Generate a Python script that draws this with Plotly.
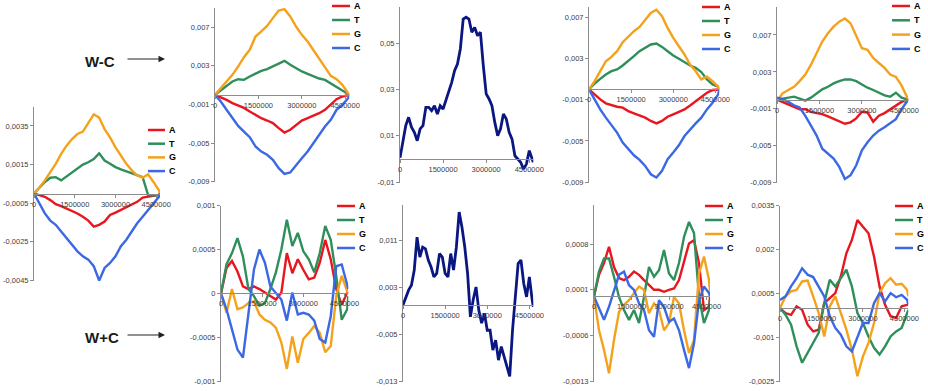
import plotly.graph_objects as go

W, H = 928, 391

# ---------------- data ----------------
X_COARSE = [0, 200000, 400000, 600000, 800000, 1000000, 1200000, 1400000, 1600000,
            1800000, 2000000, 2200000, 2400000, 2600000, 2800000, 3000000, 3200000,
            3400000, 3600000, 3800000, 4000000, 4200000, 4400000, 4600000, 4640000]
X_FINE = [0, 100000, 200000, 300000, 400000, 500000, 600000, 700000, 800000, 900000,
          1000000, 1100000, 1200000, 1300000, 1400000, 1500000, 1600000, 1700000,
          1800000, 1900000, 2000000, 2100000, 2200000, 2300000, 2400000, 2500000,
          2600000, 2700000, 2800000, 2900000, 3000000, 3100000, 3200000, 3300000,
          3400000, 3500000, 3600000, 3700000, 3800000, 3900000, 4000000, 4100000,
          4200000, 4300000, 4400000, 4500000, 4600000, 4640000]

BASES = ["A", "T", "G", "C"]
X_TICKVALS = [0, 1500000, 3000000, 4500000]
X_TICKTEXT = ["0", "1500000", "3000000", "4500000"]

# left panel (W-C, whole genome)
P1_A = [0, -0.00009, -0.00017, -0.00034, -0.00055, -0.00065, -0.00077, -0.00089, -0.00103, -0.0012, -0.0014, -0.00171, -0.00162, -0.00145, -0.00111, -0.00099, -0.00085, -0.00068, -0.00055, -0.00043, -0.00021, -0.00017, -0.00014, -0.00007, 0]
P1_T = [0, 0.00031, 0.0006, 0.00082, 0.00085, 0.00068, 0.00089, 0.00111, 0.00128, 0.0015, 0.00162, 0.00179, 0.00208, 0.00171, 0.00154, 0.00137, 0.00125, 0.00115, 0.00106, 0.00096, 0.00085, -0.00007, -0.0001, -0.00007, 0]
P1_G = [0, 0.00031, 0.00068, 0.00111, 0.00154, 0.00205, 0.00248, 0.00282, 0.00308, 0.00321, 0.00367, 0.0041, 0.00393, 0.00333, 0.00291, 0.00239, 0.00197, 0.00154, 0.0012, 0.00094, 0.00082, 0.00099, 0.0006, 0.00017, 0]
P1_C = [0, -0.00051, -0.00103, -0.0014, -0.00162, -0.00197, -0.00231, -0.00265, -0.00299, -0.00325, -0.00342, -0.00376, -0.0045, -0.00385, -0.00359, -0.00325, -0.00273, -0.00239, -0.00197, -0.00154, -0.0012, -0.00085, -0.00051, -0.00017, 0]
P1_YTICKS = [-0.0045, -0.0025, -0.0005, 0.0015, 0.0035]
P1_YTEXT = ["-0,0045", "-0,0025", "-0,0005", "0,0015", "0,0035"]

# top row, W-C
P2_A = [0, -0.00024, -0.00052, -0.00086, -0.00114, -0.00135, -0.00173, -0.00207, -0.00242, -0.00266, -0.00293, -0.00345, -0.0039, -0.00362, -0.00311, -0.00266, -0.00242, -0.00217, -0.0019, -0.00155, -0.00104, -0.00045, -0.00017, -0.00003, 0]
P2_T = [0, 0.00045, 0.00093, 0.00138, 0.00162, 0.00155, 0.0019, 0.00217, 0.00248, 0.00266, 0.00293, 0.00328, 0.00352, 0.00311, 0.00276, 0.00242, 0.00217, 0.0019, 0.00169, 0.00155, 0.00121, 0.00079, 0.00045, 0.0001, 0]
P2_G = [0, 0.00069, 0.00128, 0.00207, 0.00293, 0.0039, 0.00466, 0.00604, 0.00656, 0.00714, 0.00794, 0.00873, 0.00887, 0.00811, 0.00707, 0.00621, 0.00552, 0.00466, 0.0038, 0.00293, 0.00197, 0.00162, 0.00104, 0.00017, 0]
P2_C = [0, -0.00069, -0.00155, -0.00242, -0.00321, -0.0038, -0.00438, -0.00535, -0.00587, -0.00621, -0.00673, -0.00759, -0.00818, -0.00804, -0.00725, -0.00656, -0.00587, -0.005, -0.00414, -0.00328, -0.00259, -0.00155, -0.00104, -0.00035, 0]
P2_YTICKS = [-0.009, -0.005, -0.001, 0.003, 0.007]
P2_YTEXT = ["-0,009", "-0,005", "-0,001", "0,003", "0,007"]

P3_N = [0.0005, 0.0072, 0.0144, 0.018, 0.0137, 0.0115, 0.0079, 0.013, 0.0144, 0.0223, 0.0223, 0.0209, 0.023, 0.0194, 0.023, 0.0216, 0.0252, 0.0288, 0.0331, 0.0381, 0.041, 0.0475, 0.0604, 0.0612, 0.0604, 0.0547, 0.0568, 0.0532, 0.0547, 0.0403, 0.0281, 0.0259, 0.023, 0.0158, 0.0101, 0.013, 0.0194, 0.0173, 0.0115, 0.0086, 0.0014, 0, -0.0014, -0.0043, -0.0022, 0.0036, 0, -0.0014]
P3_YTICKS = [-0.01, 0.01, 0.03, 0.05]
P3_YTEXT = ["-0,01", "0,01", "0,03", "0,05"]

P4_A = [0, -0.00048, -0.00097, -0.00135, -0.00155, -0.00168, -0.00177, -0.0021, -0.00232, -0.00252, -0.00274, -0.00306, -0.00329, -0.00306, -0.00265, -0.00242, -0.00219, -0.00194, -0.00155, -0.00113, -0.00071, -0.00032, -0.00006, 0, 0]
P4_T = [0, 0.00058, 0.00103, 0.00145, 0.00177, 0.00194, 0.00232, 0.00274, 0.00323, 0.00371, 0.00403, 0.00436, 0.00445, 0.00413, 0.00371, 0.00329, 0.00297, 0.00265, 0.00232, 0.0021, 0.00168, 0.00097, 0.00048, 0.00026, 0]
P4_G = [0, 0.00081, 0.00177, 0.00274, 0.00316, 0.00371, 0.00458, 0.00516, 0.00565, 0.00606, 0.00671, 0.00742, 0.00774, 0.0071, 0.00597, 0.005, 0.00419, 0.00339, 0.00242, 0.00177, 0.00097, 0.00123, 0.00081, 0.00026, 0]
P4_C = [0, -0.00097, -0.00194, -0.00274, -0.00348, -0.00419, -0.00516, -0.00581, -0.00639, -0.00684, -0.00742, -0.00823, -0.00855, -0.0079, -0.00677, -0.00613, -0.00542, -0.00452, -0.00387, -0.00329, -0.00274, -0.00194, -0.00129, -0.00048, 0]

P5_A = [0, -0.00025, -0.0005, -0.00075, -0.00104, -0.00104, -0.00132, -0.00146, -0.00157, -0.00182, -0.00211, -0.00239, -0.00261, -0.00246, -0.00203, -0.00132, -0.00139, -0.00239, -0.00175, -0.00146, -0.00104, -0.00061, -0.00025, -0.00004, 0]
P5_T = [0, 0.00011, 0.00018, 0.00032, 0.00011, -0.00011, 0.00021, 0.00068, 0.00111, 0.00139, 0.00175, 0.002, 0.00218, 0.00218, 0.002, 0.00164, 0.00129, 0.00104, 0.00075, 0.00046, 0.00032, 0.00075, 0.00021, 0.00004, 0]
P5_G = [-0.00014, 0.00068, 0.00104, 0.00139, 0.002, 0.00271, 0.00378, 0.00503, 0.00628, 0.00718, 0.00789, 0.00843, 0.00878, 0.00825, 0.00682, 0.00557, 0.00539, 0.0045, 0.00396, 0.00343, 0.00271, 0.00246, 0.00154, 0.00021, 0]
P5_C = [0.00021, 0.00004, -0.00025, -0.00061, -0.00086, -0.00175, -0.00282, -0.00389, -0.00532, -0.00585, -0.00639, -0.00728, -0.0086, -0.00818, -0.0071, -0.0055, -0.00461, -0.00389, -0.00336, -0.003, -0.00253, -0.00211, -0.00104, -0.00014, 0]

# bottom row, W+C
P6_A = [0, 0.00029, 0.00037, 0.00025, 0.00008, 0.00005, 0.00008, 0.00005, 0.00001, -0.00003, -0.00007, 0.00001, 0.00046, 0.00023, 0.00039, 0.00027, 0.00016, 0.00018, 0.00035, 0.00061, 0.00039, 0.00005, -0.00013, 0.00001, 0]
P6_T = [0, 0.00033, 0.00046, 0.00063, 0.00042, 0.00005, -0.00003, -0.00014, -0.00011, 0.00005, 0.00024, 0.0005, 0.00084, 0.00054, 0.00069, 0.00048, 0.00039, 0.00024, 0.00046, 0.00077, 0.00061, 0.0002, -0.0003, -0.00018, -0.00003]
P6_G = [0, -0.00022, 0.00005, -0.00018, -0.00016, -0.00011, -0.00009, -0.00024, -0.0003, -0.00033, -0.00039, -0.00056, -0.00086, -0.00049, -0.00079, -0.00052, -0.00045, -0.00037, -0.00045, -0.00067, -0.0006, -0.00003, 0.0002, 0.00001, -0.00001]
P6_C = [0, -0.00018, -0.00041, -0.00064, -0.00073, -0.00026, 0.00027, 0.0005, 0.00035, 0.00008, 0.00001, -0.00007, -0.00031, 0.00001, -0.00024, -0.00022, -0.00024, -0.00031, -0.00052, -0.00056, -0.00026, 0.00031, 0.00033, 0.00012, 0.00005]
P6_YTICKS = [-0.001, -0.0005, 0, 0.0005, 0.001]
P6_YTEXT = ["-0,001", "-0,0005", "0", "0,0005", "0,001"]

P7_N = [0, 0.00142, 0.00255, 0.0034, 0.00595, 0.0116, 0.0082, 0.0099, 0.0096, 0.0077, 0.0065, 0.0048, 0.0054, 0.0088, 0.0082, 0.0054, 0.0048, 0.0088, 0.006, 0.0099, 0.0159, 0.0133, 0.0099, 0.0054, -0.002, 0.0009, 0.0031, -0.0009, -0.0031, -0.0014, -0.0043, -0.0043, -0.0077, -0.006, -0.0094, -0.0071, -0.0088, -0.0105, -0.0122, -0.0043, 0.0014, 0.0071, 0.0077, 0.0037, 0.0014, 0.0048, 0.0009, -0.0003]
P7_YTICKS = [-0.013, -0.005, 0.003, 0.011]
P7_YTEXT = ["-0,013", "-0,005", "0,003", "0,011"]

P8_A = [0, 0.00033, 0.00051, 0.00076, 0.00045, 0.00028, 0.00025, 0.0003, 0.00038, 0.00033, 0.00025, 0.00017, 0.0001, 0.0001, 0.00007, 0.0001, 0.00012, 0.00025, 0.00051, 0.00081, 0.00086, 0.00051, -0.00021, -0.00016, -0.00001]
P8_T = [0, 0.00038, 0.00058, 0.00058, 0.0003, -0.00001, -0.00021, -0.00036, -0.00021, -0.00041, -0.00001, 0.00045, 0.0003, 0.0004, 0.00071, 0.00035, 0.00025, 0.00051, 0.00091, 0.00114, 0.00097, -0.00001, -0.00041, -0.00021, -0.00006]
P8_G = [0, -0.00052, -0.00082, -0.00118, -0.00067, -0.00024, -0.00013, -0.00006, 0.00005, 0.00015, 0.0001, -0.00026, -0.00011, -0.00021, -0.00052, -0.00041, -0.00001, -0.00011, -0.00052, -0.00087, -0.00067, 0.00035, 0.00061, 0.00025, 0.00005]
P8_C = [0, -0.00018, -0.00036, -0.00016, 0.0001, 0.00033, 0.00038, 0.00017, 0.0001, -0.00011, -0.00021, -0.00052, -0.00062, -0.00006, -0.00016, -0.00039, -0.00034, -0.00052, -0.00082, -0.0011, -0.00072, -0.00006, 0.00015, 0.00005, 0]
P8_YTICKS = [-0.0013, -0.0006, 0.0001, 0.0008]
P8_YTEXT = ["-0,0013", "-0,0006", "0,0001", "0,0008"]

P9_A = [0, -0.00017, -0.00023, 0.00006, -0.00006, -0.00057, -0.0008, -0.00074, 0.00017, 0.00034, 0.00051, 0.00108, 0.00187, 0.00233, 0.00301, 0.00278, 0.00256, 0.00176, 0.00074, 0.00011, -0.00028, -0.00034, 0.00006, 0.00011, 0.00011]
P9_T = [0, -0.00023, -0.00057, -0.00131, -0.00187, -0.00153, -0.00119, -0.00085, 0.00017, 0.00097, 0.00074, 0.00102, 0.00131, 0.00074, -0.00017, -0.00051, -0.00097, -0.00136, -0.00159, -0.00131, -0.00097, -0.0008, -0.00068, -0.00017, -0.00006]
P9_G = [0, 0.0004, 0.00057, 0.00062, 0.00091, 0.00094, 0.0004, -0.00017, -0.00097, 0.00006, 0.0004, -0.00017, -0.00074, -0.00142, -0.00233, -0.00165, -0.00119, -0.00051, 0.00051, 0.00085, 0.00102, 0.0008, 0.00083, 0.00062, 0.0004]
P9_C = [0.00028, 0.0004, 0.00074, 0.00102, 0.00136, 0.00114, 0.00106, 0.00074, 0.0004, -0.00028, -0.00068, -0.00091, -0.00131, -0.00148, -0.00097, -0.00051, -0.00051, 0.00017, 0.00051, 0.00023, 0.00051, 0.00037, 0.00045, 0.00028, 0.00011]
P9_YTICKS = [-0.0025, -0.001, 0.0005, 0.002, 0.0035]
P9_YTEXT = ["-0,0025", "-0,001", "0,0005", "0,002", "0,0035"]

ROW_LABELS = ["W-C", "W+C"]

# ---------------- styles ----------------
COLORS = {"A": "#E8161E", "T": "#2F8F5B", "G": "#F4A21B", "C": "#3B68E3"}
NAVY = "#0B1780"
FONT = "Liberation Sans, Arial, sans-serif"
AXIS_COLOR = "#8c8c8c"
TICK_FONT = dict(family=FONT, size=7.5, color="#404040")

panels = [
    dict(x0=34, x1=160, top=106.6, bot=281.0, yr=[-0.0045, 0.0045], yt=P1_YTICKS, ytt=P1_YTEXT,
         x=X_COARSE, series=[P1_A, P1_T, P1_G, P1_C], leg=(148, 165, 130, 13.7)),
    dict(x0=215, x1=349.3, top=7.9, bot=182.3, yr=[-0.009, 0.009], yt=P2_YTICKS, ytt=P2_YTEXT,
         x=X_COARSE, series=[P2_A, P2_T, P2_G, P2_C], leg=(332, 350, 6, 14)),
    dict(x0=400, x1=533.3, top=7.0, bot=182.7, yr=[-0.01, 0.0656], yt=P3_YTICKS, ytt=P3_YTEXT,
         x=X_FINE, series=[P3_N], leg=None),
    dict(x0=589, x1=719.3, top=7.0, bot=182.7, yr=[-0.009, 0.008], yt=P2_YTICKS, ytt=P2_YTEXT,
         x=X_COARSE, series=[P4_A, P4_T, P4_G, P4_C], leg=(702, 720, 7, 14)),
    dict(x0=777, x1=908.3, top=7.2, bot=183.3, yr=[-0.009, 0.010], yt=P2_YTICKS, ytt=P2_YTEXT,
         x=X_COARSE, series=[P5_A, P5_T, P5_G, P5_C], leg=(892, 910, 6, 14.3)),
    dict(x0=221, x1=348.3, top=205.7, bot=381.7, yr=[-0.001, 0.001], yt=P6_YTICKS, ytt=P6_YTEXT,
         x=X_COARSE, series=[P6_A, P6_T, P6_G, P6_C], leg=(337, 355, 206, 14)),
    dict(x0=403, x1=533.3, top=205.0, bot=381.7, yr=[-0.013, 0.0171], yt=P7_YTICKS, ytt=P7_YTEXT,
         x=X_FINE, series=[P7_N], leg=None),
    dict(x0=594, x1=710, top=205.0, bot=381.7, yr=[-0.0013, 0.0014], yt=P8_YTICKS, ytt=P8_YTEXT,
         x=X_COARSE, series=[P8_A, P8_T, P8_G, P8_C], leg=(705, 723, 206, 14)),
    dict(x0=780, x1=908.3, top=205.7, bot=381.7, yr=[-0.0025, 0.0035], yt=P9_YTICKS, ytt=P9_YTEXT,
         x=X_COARSE, series=[P9_A, P9_T, P9_G, P9_C], leg=(895, 913, 206, 14)),
]


def fx(p):
    return p / W


def fy(p):
    return 1 - p / H


fig = go.Figure()
layout = {}
shapes = []
annotations = []

for i, p in enumerate(panels, start=1):
    xs = "" if i == 1 else str(i)
    ydom = [fy(p["bot"]), fy(p["top"])]
    y0, y1 = p["yr"]
    span = y1 - y0
    yr = [y0 - span * 0.003, y1]
    zero_pos = ydom[0] + (0 - yr[0]) / (yr[1] - yr[0]) * (ydom[1] - ydom[0])

    layout["xaxis" + xs] = dict(
        domain=[fx(p["x0"]), fx(p["x1"])], range=[0, 4640000],
        anchor="free", position=zero_pos, automargin=False,
        showline=True, linecolor=AXIS_COLOR, linewidth=1,
        ticks="outside", ticklen=3, tickcolor=AXIS_COLOR,
        tickvals=X_TICKVALS, ticktext=X_TICKTEXT, tickfont=TICK_FONT,
        showgrid=False, zeroline=False, fixedrange=True,
    )
    layout["yaxis" + xs] = dict(
        domain=ydom, range=yr, anchor="x" + xs, automargin=False,
        showline=True, linecolor=AXIS_COLOR, linewidth=1,
        ticks="outside", ticklen=3, tickcolor=AXIS_COLOR,
        tickvals=p["yt"], ticktext=p["ytt"], tickfont=TICK_FONT,
        showgrid=False, zeroline=False, fixedrange=True,
    )

    if len(p["series"]) == 1:
        fig.add_trace(go.Scatter(
            x=p["x"], y=p["series"][0], mode="lines",
            line=dict(color=NAVY, width=2.8), showlegend=False,
            xaxis="x" + xs, yaxis="y" + xs, name="W-C" if i < 6 else "W+C"))
    else:
        for b, ys in zip(BASES, p["series"]):
            fig.add_trace(go.Scatter(
                x=p["x"], y=ys, mode="lines", name=b,
                line=dict(color=COLORS[b], width=2.4), showlegend=False,
                xaxis="x" + xs, yaxis="y" + xs))

    if p["leg"]:
        lx0, lx1, ly, dy = p["leg"]
        for k, b in enumerate(BASES):
            yy = ly + k * dy
            shapes.append(dict(type="line", xref="paper", yref="paper",
                               x0=fx(lx0), x1=fx(lx1), y0=fy(yy), y1=fy(yy),
                               line=dict(color=COLORS[b], width=2.5)))
            annotations.append(dict(xref="paper", yref="paper", x=fx(lx1 + 2), y=fy(yy),
                                    xanchor="left", yanchor="middle", showarrow=False,
                                    text="<b>%s</b>" % b,
                                    font=dict(family=FONT, size=9, color="#000000")))

# row labels with arrows
for label, (tx, ty, ay) in zip(ROW_LABELS, [(99.5, 61, 59), (102, 337, 335)]):
    annotations.append(dict(xref="paper", yref="paper", x=fx(tx), y=fy(ty),
                            xanchor="center", yanchor="middle", showarrow=False,
                            text="<b>%s</b>" % label,
                            font=dict(family=FONT, size=15, color="#1a1a1a")))
    annotations.append(dict(xref="paper", yref="paper", x=fx(165), y=fy(ay),
                            ax=-39, ay=0, axref="pixel", ayref="pixel",
                            showarrow=True, arrowhead=2, arrowsize=1.3, arrowwidth=1,
                            arrowcolor="#222222", text=""))

fig.update_layout(
    width=W, height=H, autosize=False,
    margin=dict(l=0, r=0, t=0, b=0, autoexpand=False),
    paper_bgcolor="white", plot_bgcolor="white",
    font=dict(family=FONT, size=8, color="#404040"),
    showlegend=False, hovermode=False,
    shapes=shapes, annotations=annotations,
    **layout,
)

fig.write_html(
    "out.html",
    config={"displayModeBar": False, "staticPlot": True},
    post_script="document.body.style.margin='0px';document.body.style.overflow='hidden';",
)
